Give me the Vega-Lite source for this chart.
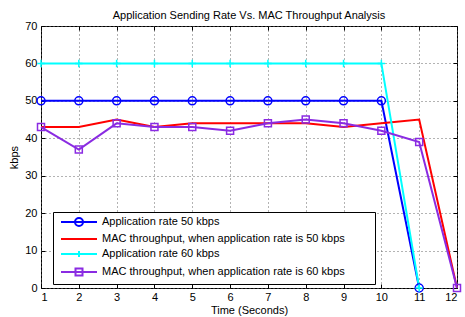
{
  "$schema": "https://vega.github.io/schema/vega-lite/v6.json",
  "width": 416,
  "height": 262,
  "autosize": {"type": "none"},
  "padding": {"left": 41, "top": 26, "right": 8, "bottom": 29},
  "config": {
    "font": "Liberation Sans",
    "background": "white",
    "view": {"stroke": "black", "strokeWidth": 1},
    "axis": {
      "labelFont": "Liberation Sans", "labelFontSize": 11, "labelColor": "#000",
      "titleFont": "Liberation Sans", "titleFontSize": 11, "titleFontWeight": "normal", "titleColor": "#000",
      "domain": false, "tickColor": "#000", "tickSize": -4, "tickWidth": 1,
      "gridColor": "#666", "gridDash": [1, 3], "gridOpacity": 1, "gridWidth": 1
    }
  },
  "title": {"text": "Application Sending Rate Vs. MAC Throughput Analysis", "fontSize": 11, "fontWeight": "normal", "font": "Liberation Sans", "color": "#000", "offset": -1, "anchor": "middle"},
  "data": {"values": [
    {"t": 1, "v": 50, "s": "Application rate 50 kbps"},
    {"t": 2, "v": 50, "s": "Application rate 50 kbps"},
    {"t": 3, "v": 50, "s": "Application rate 50 kbps"},
    {"t": 4, "v": 50, "s": "Application rate 50 kbps"},
    {"t": 5, "v": 50, "s": "Application rate 50 kbps"},
    {"t": 6, "v": 50, "s": "Application rate 50 kbps"},
    {"t": 7, "v": 50, "s": "Application rate 50 kbps"},
    {"t": 8, "v": 50, "s": "Application rate 50 kbps"},
    {"t": 9, "v": 50, "s": "Application rate 50 kbps"},
    {"t": 10, "v": 50, "s": "Application rate 50 kbps"},
    {"t": 11, "v": 0, "s": "Application rate 50 kbps"},
    {"t": 1, "v": 43, "s": "MAC throughput, when application rate is 50 kbps"},
    {"t": 2, "v": 43, "s": "MAC throughput, when application rate is 50 kbps"},
    {"t": 3, "v": 45, "s": "MAC throughput, when application rate is 50 kbps"},
    {"t": 4, "v": 43, "s": "MAC throughput, when application rate is 50 kbps"},
    {"t": 5, "v": 44, "s": "MAC throughput, when application rate is 50 kbps"},
    {"t": 6, "v": 44, "s": "MAC throughput, when application rate is 50 kbps"},
    {"t": 7, "v": 44, "s": "MAC throughput, when application rate is 50 kbps"},
    {"t": 8, "v": 44, "s": "MAC throughput, when application rate is 50 kbps"},
    {"t": 9, "v": 43, "s": "MAC throughput, when application rate is 50 kbps"},
    {"t": 10, "v": 44, "s": "MAC throughput, when application rate is 50 kbps"},
    {"t": 11, "v": 45, "s": "MAC throughput, when application rate is 50 kbps"},
    {"t": 12, "v": 0, "s": "MAC throughput, when application rate is 50 kbps"},
    {"t": 1, "v": 60, "s": "Application rate 60 kbps"},
    {"t": 2, "v": 60, "s": "Application rate 60 kbps"},
    {"t": 3, "v": 60, "s": "Application rate 60 kbps"},
    {"t": 4, "v": 60, "s": "Application rate 60 kbps"},
    {"t": 5, "v": 60, "s": "Application rate 60 kbps"},
    {"t": 6, "v": 60, "s": "Application rate 60 kbps"},
    {"t": 7, "v": 60, "s": "Application rate 60 kbps"},
    {"t": 8, "v": 60, "s": "Application rate 60 kbps"},
    {"t": 9, "v": 60, "s": "Application rate 60 kbps"},
    {"t": 10, "v": 60, "s": "Application rate 60 kbps"},
    {"t": 11, "v": 0, "s": "Application rate 60 kbps"},
    {"t": 1, "v": 43, "s": "MAC throughput, when application rate is 60 kbps"},
    {"t": 2, "v": 37, "s": "MAC throughput, when application rate is 60 kbps"},
    {"t": 3, "v": 44, "s": "MAC throughput, when application rate is 60 kbps"},
    {"t": 4, "v": 43, "s": "MAC throughput, when application rate is 60 kbps"},
    {"t": 5, "v": 43, "s": "MAC throughput, when application rate is 60 kbps"},
    {"t": 6, "v": 42, "s": "MAC throughput, when application rate is 60 kbps"},
    {"t": 7, "v": 44, "s": "MAC throughput, when application rate is 60 kbps"},
    {"t": 8, "v": 45, "s": "MAC throughput, when application rate is 60 kbps"},
    {"t": 9, "v": 44, "s": "MAC throughput, when application rate is 60 kbps"},
    {"t": 10, "v": 42, "s": "MAC throughput, when application rate is 60 kbps"},
    {"t": 11, "v": 39, "s": "MAC throughput, when application rate is 60 kbps"},
    {"t": 12, "v": 0, "s": "MAC throughput, when application rate is 60 kbps"}
  ]},
  "layer": [
    {
      "mark": {"type": "line", "strokeWidth": 2, "clip": false},
      "encoding": {
        "x": {"field": "t", "type": "quantitative", "scale": {"domain": [1, 12], "nice": false, "zero": false},
              "axis": {"orient": "bottom", "values": [1,2,3,4,5,6,7,8,9,10,11,12], "title": "Time (Seconds)", "labelPadding": 7, "titlePadding": 2, "grid": true}},
        "y": {"field": "v", "type": "quantitative", "scale": {"domain": [0, 70], "nice": false},
              "axis": {"orient": "left", "values": [0,10,20,30,40,50,60,70], "title": "kbps", "labelPadding": 8, "titlePadding": 5, "grid": true}},
        "color": {
          "field": "s", "type": "nominal", "sort": null,
          "scale": {
            "domain": ["Application rate 50 kbps", "MAC throughput, when application rate is 50 kbps", "Application rate 60 kbps", "MAC throughput, when application rate is 60 kbps"],
            "range": ["#0000ff", "#ff0000", "#00ffff", "#8a2be2"]
          },
          "legend": {
            "orient": "none", "legendX": 12, "legendY": 186, "title": null,
            "strokeColor": "black", "fillColor": "white", "padding": 4,
            "labelFont": "Liberation Sans", "labelFontSize": 11, "labelColor": "#000", "labelLimit": 400,
            "symbolSize": 100, "symbolStrokeWidth": 2, "symbolOffset": 16, "labelOffset": 17, "rowPadding": 3,
            "encode": {"symbols": {"update": {
              "shape": {"signal": "datum.value === 'Application rate 50 kbps' ? 'M-3.6,0L3.6,0M0.8,0A0.8,0.8,0,1,1,-0.8,0A0.8,0.8,0,1,1,0.8,0' : datum.value === 'Application rate 60 kbps' ? 'M-3.6,0L3.6,0M0,-0.6L0,0.6' : datum.value === 'MAC throughput, when application rate is 60 kbps' ? 'M-3.6,0L3.6,0M-0.7,-0.7L0.7,-0.7L0.7,0.7L-0.7,0.7Z' : 'M-3.6,0L3.6,0M57.6,0'"},
              "fill": {"value": "transparent"}
            }}}
          }
        }
      }
    },
    {
      "transform": [{"filter": "datum.s !== 'MAC throughput, when application rate is 50 kbps'"}],
      "mark": {"type": "point", "filled": false, "strokeWidth": 1.5, "opacity": 1, "clip": false},
      "encoding": {
        "x": {"field": "t", "type": "quantitative", "axis": {"orient": "top", "values": [1,2,3,4,5,6,7,8,9,10,11,12], "labels": false, "title": null, "grid": false}},
        "y": {"field": "v", "type": "quantitative", "axis": {"orient": "right", "values": [0,10,20,30,40,50,60,70], "labels": false, "title": null, "grid": false}},
        "stroke": {"field": "s", "type": "nominal", "legend": null,
          "scale": {"domain": ["Application rate 50 kbps", "Application rate 60 kbps", "MAC throughput, when application rate is 60 kbps"], "range": ["#0000ff", "#00ffff", "#8a2be2"]}},
        "shape": {"field": "s", "type": "nominal", "legend": null,
          "scale": {"domain": ["Application rate 50 kbps", "Application rate 60 kbps", "MAC throughput, when application rate is 60 kbps"], "range": ["circle", "M-1,0L1,0M0,-1L0,1", "square"]}},
        "size": {"field": "s", "type": "nominal", "legend": null,
          "scale": {"domain": ["Application rate 50 kbps", "Application rate 60 kbps", "MAC throughput, when application rate is 60 kbps"], "range": [64, 49, 42]}}
      }
    }
  ]
}
